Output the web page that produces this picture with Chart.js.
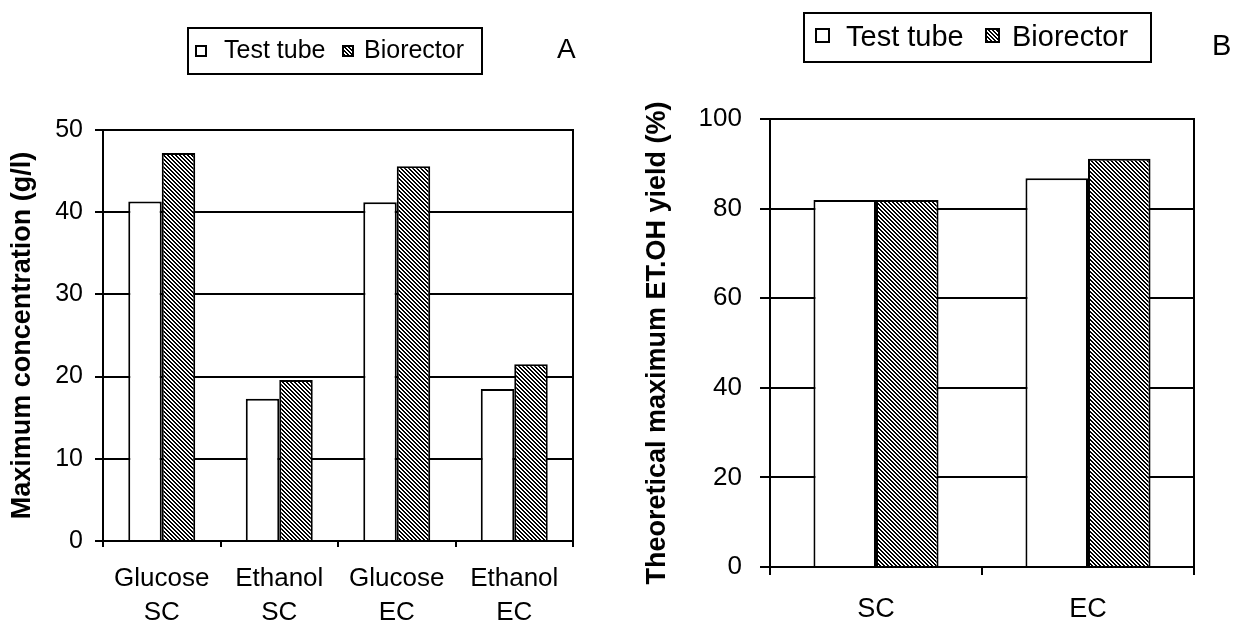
<!DOCTYPE html>
<html>
<head>
<meta charset="utf-8">
<script src="https://cdn.jsdelivr.net/npm/chart.js@4.4.1/dist/chart.umd.min.js"></script>
<style>
  body { margin: 0; background: #fff; width: 1238px; height: 624px; position: relative; overflow: hidden; font-family: 'Liberation Sans', Arial, sans-serif; color: #000; }
  canvas { position: absolute; top: 0; }
  #chartA { left: 0; }
  #chartB { left: 630px; }
  .box { position: absolute; border: 2px solid #000; box-sizing: border-box; }
  .sw { position: absolute; box-sizing: border-box; border: 2px solid #000; background: #fff; }
  .sw.hatch { background: repeating-linear-gradient(45deg, #000 0 1.4px, #fff 1.4px 2.8px); }
  .txt { position: absolute; line-height: 1; white-space: nowrap; }
</style>
</head>
<body>
<canvas id="chartA" width="600" height="624"></canvas>
<canvas id="chartB" width="608" height="624"></canvas>

<!-- leyenda A -->
<div class="box" style="left:187px;top:27px;width:296px;height:48px"></div>
<div class="sw" style="left:195px;top:45px;width:12px;height:12px"></div>
<div class="txt" style="left:224px;top:37px;font-size:25px">Test tube</div>
<div class="sw hatch" style="left:342px;top:45px;width:12px;height:12px"></div>
<div class="txt" style="left:364px;top:37px;font-size:25px">Biorector</div>
<div class="txt" style="left:557px;top:35px;font-size:28px">A</div>

<!-- leyenda B -->
<div class="box" style="left:803px;top:12px;width:349px;height:51px"></div>
<div class="sw" style="left:815px;top:28px;width:15px;height:15px"></div>
<div class="txt" style="left:846px;top:22px;font-size:29px">Test tube</div>
<div class="sw hatch" style="left:985px;top:28px;width:15px;height:15px"></div>
<div class="txt" style="left:1012px;top:22px;font-size:29px">Biorector</div>
<div class="txt" style="left:1212px;top:31px;font-size:29px">B</div>

<script>
// Datos
const seriesNames = ['Test tube', 'Biorector']

const categoriesA = [['Glucose', 'SC'], ['Ethanol', 'SC'], ['Glucose', 'EC'], ['Ethanol', 'EC']]
const testTubeA = [41.3, 17.3, 41.2, 18.5]
const biorectorA = [47.2, 19.6, 45.6, 21.5]

const categoriesB = ['SC', 'EC']
const testTubeB = [81.9, 86.8]
const biorectorB = [81.9, 91.1]

Chart.defaults.color = '#000'
Chart.defaults.font.family = "'Liberation Sans', Arial, sans-serif"
Chart.defaults.animation = false

// Patrón rayado
function makeHatch() {
  const n = 4
  const c = document.createElement('canvas')
  c.width = n
  c.height = n
  const g = c.getContext('2d')
  const img = g.createImageData(n, n)
  for (let y = 0; y < n; y++) {
    for (let x = 0; x < n; x++) {
      const d = (x - y + n * 2) % n
      const v = d < 2 ? 0 : 255
      const i = (y * n + x) * 4
      img.data[i] = v
      img.data[i + 1] = v
      img.data[i + 2] = v
      img.data[i + 3] = 255
    }
  }
  g.putImageData(img, 0, 0)
  return g.createPattern(c, 'repeat')
}
const hatch = makeHatch()

// Borde derecho del área
const rightFrame = {
  id: 'rightFrame',
  beforeDatasetsDraw(chart) {
    const { ctx, chartArea } = chart
    ctx.save()
    ctx.strokeStyle = '#000'
    ctx.lineWidth = 2
    ctx.beginPath()
    ctx.moveTo(chartArea.right, chartArea.top - 1)
    ctx.lineTo(chartArea.right, chartArea.bottom)
    ctx.stroke()
    ctx.restore()
  },
}

function makeChart(id, opts) {
  new Chart(document.getElementById(id), {
    type: 'bar',
    data: {
      labels: opts.labels,
      datasets: [
        {
          label: seriesNames[0],
          data: opts.tube,
          backgroundColor: '#fff',
          borderColor: '#000',
          borderWidth: 2,
        },
        {
          label: seriesNames[1],
          data: opts.bio,
          backgroundColor: hatch,
          borderColor: '#000',
          borderWidth: 2,
        },
      ],
    },
    options: {
      responsive: false,
      layout: { padding: { top: opts.top, right: opts.right, left: 0, bottom: 0 } },
      plugins: { legend: { display: false }, tooltip: { enabled: false } },
      datasets: { bar: { categoryPercentage: opts.catPct, barPercentage: 1 } },
      scales: {
        x: {
          afterFit: (scale) => { scale.height = opts.xHeight },
          grid: { drawOnChartArea: false, color: '#000', lineWidth: 2, tickLength: opts.xTick, offset: true },
          border: { color: '#000', width: 2 },
          ticks: { font: { size: opts.xFont, lineHeight: opts.xLine }, padding: opts.xPad, maxRotation: 0 },
        },
        y: {
          min: 0,
          max: opts.max,
          afterFit: (scale) => { scale.width = opts.yWidth },
          grid: { color: '#000', lineWidth: 2, tickLength: opts.yTick },
          border: { color: '#000', width: 2 },
          ticks: { stepSize: opts.step, font: { size: opts.yFont }, padding: opts.yPad },
          title: {
            display: true,
            text: opts.title,
            font: { size: 27, weight: 'bold' },
            padding: { top: opts.titlePad, bottom: 0 },
          },
        },
      },
    },
    plugins: [rightFrame],
  })
}

makeChart('chartA', {
  labels: categoriesA, tube: testTubeA, bio: biorectorA,
  top: 130, right: 27, xHeight: 83, yWidth: 103,
  catPct: 0.57, max: 50, step: 10,
  xTick: 6, xFont: 26, xLine: 1.3, xPad: 15,
  yTick: 8, yFont: 25, yPad: 12,
  title: 'Maximum concentration (g/l)', titlePad: 6,
})

makeChart('chartB', {
  labels: categoriesB, tube: testTubeB, bio: biorectorB,
  top: 119, right: 44, xHeight: 57, yWidth: 140,
  catPct: 0.59, max: 100, step: 20,
  xTick: 8, xFont: 27, xLine: 1.2, xPad: 18,
  yTick: 10, yFont: 26, yPad: 18,
  title: 'Theoretical maximum ET.OH yield (%)', titlePad: 11,
})
</script>
</body>
</html>
